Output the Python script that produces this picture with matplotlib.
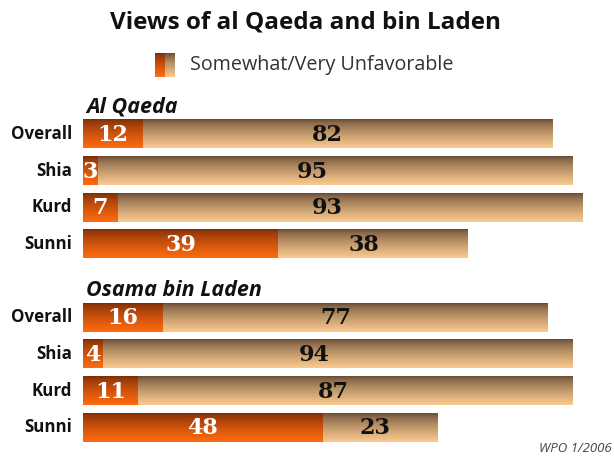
import numpy as np
import matplotlib
matplotlib.use("Agg")
from matplotlib import pyplot as plt

# Views of al Qaeda and bin Laden (WPO 1/2006)
groups = ["Al Qaeda", "Osama bin Laden"]
categories = ["Overall", "Shia", "Kurd", "Sunni"]
favorable = {"Al Qaeda": [12, 3, 7, 39], "Osama bin Laden": [16, 4, 11, 48]}
unfavorable = {"Al Qaeda": [82, 95, 93, 38], "Osama bin Laden": [77, 94, 87, 23]}

ORANGE_TOP, ORANGE_BOT = (0.48, 0.17, 0.03), (1.00, 0.42, 0.06)
TAN_TOP, TAN_BOT = (0.40, 0.29, 0.20), (0.98, 0.79, 0.56)


def gradient(top, bottom, n=64, power=0.7):
    t = np.linspace(0, 1, n) ** power
    top, bottom = np.array(top), np.array(bottom)
    return (top[None, :] * (1 - t[:, None]) + bottom[None, :] * t[:, None])[:, None, :]


def grad_bar(ax, left, width, y, height, top, bottom):
    if width <= 0:
        return
    ax.imshow(gradient(top, bottom), extent=[left, left + width, y + height / 2, y - height / 2],
              aspect="auto", interpolation="bilinear", zorder=2)


def main():
    W, H = 614, 459
    fig = plt.figure(figsize=(W / 100, H / 100), dpi=100)
    fig.patch.set_facecolor("white")

    # axes: x=0 at 83px, 5px per unit; rows 36.7px apart
    ax = fig.add_axes([83 / W, (H - 445.8) / H, 500 / W, 330 / H])
    ax.set_xlim(0, 100)
    ax.set_ylim(8.5, -0.5)
    ax.axis("off")

    bar_h = 0.78
    row = 0
    for g in groups:
        ax.text(0.6, row - 0.74, g, fontsize=15.5, fontweight="bold", style="italic",
                family="Open Sans", ha="left", va="center", color="#111111")
        for i, cat in enumerate(categories):
            fav = favorable[g][i]
            unf = unfavorable[g][i]
            y = row + i
            grad_bar(ax, 0, fav, y, bar_h, ORANGE_TOP, ORANGE_BOT)
            grad_bar(ax, fav, unf, y, bar_h, TAN_TOP, TAN_BOT)
            ax.text(fav / 2, y + 0.02, str(fav), color="white", fontsize=16, fontweight="bold",
                    family="DejaVu Serif", ha="center", va="center", zorder=3)
            ax.text(fav + unf * 0.45, y + 0.02, str(unf), color="#111111", fontsize=16,
                    fontweight="bold", family="DejaVu Serif", ha="center", va="center", zorder=3)
            ax.text(-2.2, y, cat, fontsize=12.2, fontweight="bold", family="Open Sans",
                    ha="right", va="center", color="#111111")
        row += 5

    fig.text(306 / W, 1 - 22 / H, "Views of al Qaeda and bin Laden", fontsize=17.5,
             fontweight="bold", family="Open Sans", ha="center", va="center", color="#111111")

    # legend swatch: orange half + tan half
    lax = fig.add_axes([155 / W, (H - 77) / H, 20 / W, 24 / H])
    lax.set_xlim(0, 2)
    lax.set_ylim(1, 0)
    lax.axis("off")
    grad_bar(lax, 0, 1, 0.5, 1, ORANGE_TOP, ORANGE_BOT)
    grad_bar(lax, 1, 1, 0.5, 1, TAN_TOP, TAN_BOT)
    fig.text(190 / W, 1 - 65 / H, "Somewhat/Very Unfavorable", fontsize=14.2, family="Open Sans",
             ha="left", va="center", color="#333333")

    fig.text(612 / W, 1 - 448 / H, "WPO 1/2006", fontsize=9.5, style="italic", family="Open Sans",
             ha="right", va="center", color="#444444")

    fig.savefig("out.png", dpi=100, facecolor="white")


if __name__ == "__main__":
    main()
